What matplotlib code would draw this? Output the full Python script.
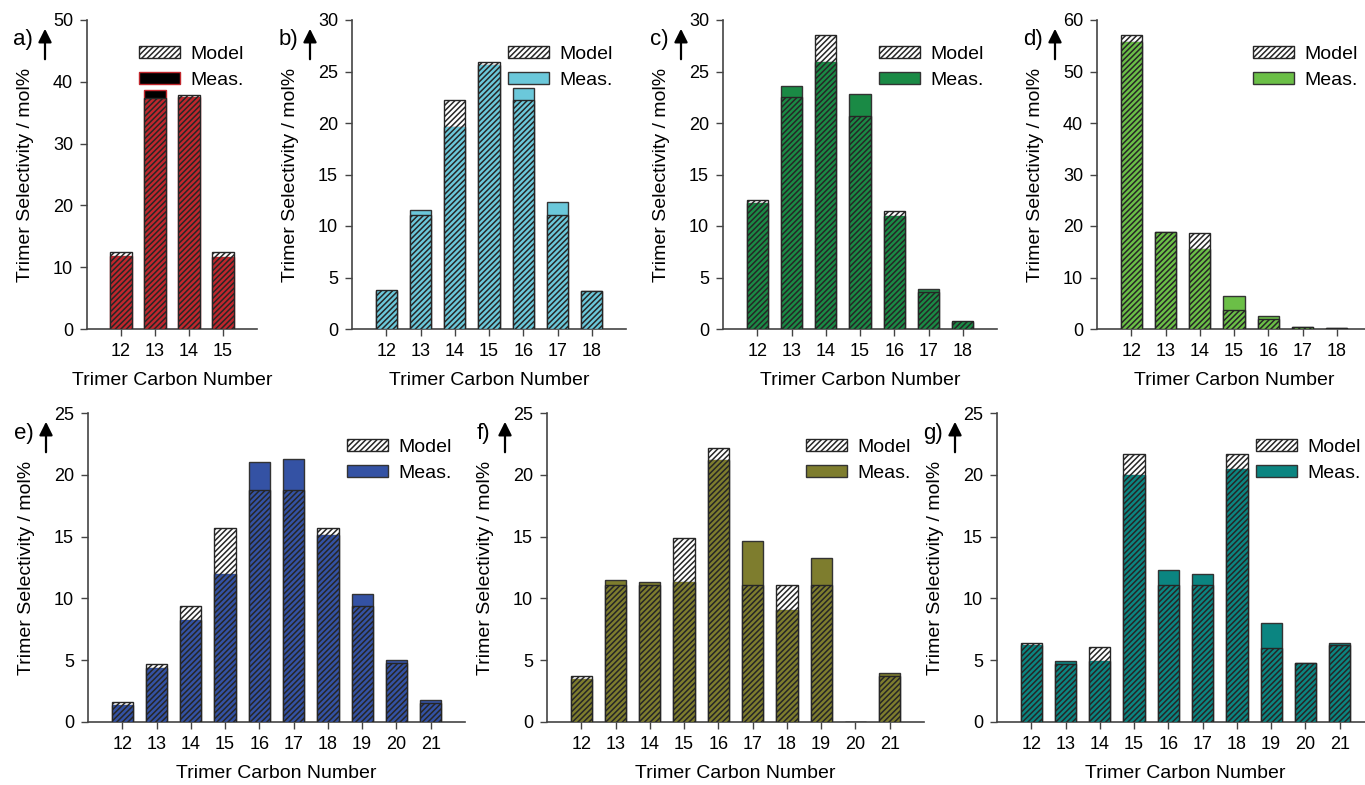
import numpy as np
import matplotlib
matplotlib.use("Agg")
import matplotlib.pyplot as plt
from matplotlib.patches import Patch

plt.rcParams['font.family'] = ['Liberation Sans', 'DejaVu Sans']
plt.rcParams['hatch.linewidth'] = 1.1

# data (mol%)
c_a = [12, 13, 14, 15]
model_a = [12.4, 37.4, 37.8, 12.4]
meas_a = [11.8, 38.6, 37.6, 11.7]

c_b = [12, 13, 14, 15, 16, 17, 18]
model_b = [3.8, 11.1, 22.2, 25.9, 22.2, 11.1, 3.7]
meas_b = [3.7, 11.6, 19.6, 25.6, 23.4, 12.3, 3.7]

c_c = [12, 13, 14, 15, 16, 17, 18]
model_c = [12.5, 22.5, 28.5, 20.7, 11.5, 3.6, 0.8]
meas_c = [12.2, 23.6, 25.9, 22.8, 11.0, 3.85, 0.7]

c_d = [12, 13, 14, 15, 16, 17, 18]
model_d = [57.1, 18.8, 18.6, 3.7, 1.9, 0.4, 0.2]
meas_d = [55.7, 18.9, 15.6, 6.5, 2.6, 0.3, 0.2]

c_e = [12, 13, 14, 15, 16, 17, 18, 19, 20, 21]
model_e = [1.62, 4.73, 9.4, 15.7, 18.8, 18.8, 15.7, 9.4, 4.8, 1.57]
meas_e = [1.35, 4.4, 8.24, 11.97, 21.0, 21.3, 15.1, 10.35, 5.05, 1.76]

c_f = [12, 13, 14, 15, 16, 17, 18, 19, 20, 21]
model_f = [3.73, 11.1, 11.1, 14.9, 22.2, 11.1, 11.1, 11.1, 0.0, 3.73]
meas_f = [3.5, 11.5, 11.35, 11.35, 21.2, 14.65, 9.05, 13.3, 0.0, 4.0]

c_g = [12, 13, 14, 15, 16, 17, 18, 19, 20, 21]
model_g = [6.4, 4.73, 6.03, 21.7, 11.1, 11.1, 21.7, 6.0, 4.8, 6.2]
meas_g = [6.2, 4.92, 4.95, 20.0, 12.3, 11.95, 20.5, 7.97, 4.8, 6.4]

panels = [
    # letter, carbons, model, meas, meas colour, overlap fill, meas edge, ymax, ystep, xmax, rect(px: left, top, width, height)
    ('a)', c_a, model_a, meas_a, '#000000', '#C0272D', '#C0272D', 50, 10, 16, (87, 20, 170, 309)),
    ('b)', c_b, model_b, meas_b, '#6BC8DA', '#6BC8DA', '#333333', 30, 5, 19, (352, 20, 274, 309)),
    ('c)', c_c, model_c, meas_c, '#1A8A45', '#1A8A45', '#333333', 30, 5, 19, (723, 20, 274, 309)),
    ('d)', c_d, model_d, meas_d, '#6BBF47', '#6BBF47', '#333333', 60, 10, 19, (1097, 20, 274, 309)),
    ('e)', c_e, model_e, meas_e, '#3452A4', '#3452A4', '#333333', 25, 5, 22, (88, 413, 377, 309)),
    ('f)', c_f, model_f, meas_f, '#7E7D2E', '#7E7D2E', '#333333', 25, 5, 22, (547, 413, 377, 309)),
    ('g)', c_g, model_g, meas_g, '#0B8581', '#0B8581', '#333333', 25, 5, 22, (997, 413, 377, 309)),
]

W, H = 1365, 785
fig = plt.figure(figsize=(W / 100, H / 100), dpi=100)

bw = 0.62
for letter, cn, mod, mea, col, fill, medge, ymax, ystep, xmax, (l, t, w, h) in panels:
    ax = fig.add_axes([l / W, 1 - (t + h) / H, w / W, h / H])
    cn = np.array(cn)
    mod = np.array(mod)
    mea = np.array(mea)
    ax.bar(cn, mea, bw, color=col, edgecolor=medge, linewidth=1, zorder=2)
    ax.bar(cn, np.minimum(mod, mea), bw, color=fill, edgecolor='none', zorder=3)
    ax.bar(cn, mod, bw, facecolor='none', edgecolor='#262626', hatch='//////',
           linewidth=1, zorder=4)

    ax.set_xlim(11, xmax)
    ax.set_ylim(0, ymax)
    ax.set_xticks(cn)
    ax.set_yticks(np.arange(0, ymax + 1, ystep))
    for s in ['top', 'right']:
        ax.spines[s].set_visible(False)
    for s in ['left', 'bottom']:
        ax.spines[s].set_color('#444444')
        ax.spines[s].set_linewidth(1.2)
    ax.tick_params(direction='out', length=5, width=1, color='#444444',
                   labelsize=13, pad=5)

    ax.set_xlabel('Trimer Carbon Number', fontsize=14, labelpad=9)
    ax.set_ylabel('Trimer Selectivity / mol%', fontsize=14)
    ax.yaxis.set_label_coords(-53 / w, 0.5)

    ax.annotate('', xy=(-42 / w, 1 - 6 / h), xytext=(-42 / w, 1 - 42 / h),
                xycoords='axes fraction',
                arrowprops=dict(arrowstyle='-|>', color='black', lw=1.6,
                                mutation_scale=20))
    ax.text(-64 / w, 1 - 20 / h, letter, transform=ax.transAxes,
            ha='center', va='center', fontsize=16)

    handles = [Patch(facecolor='white', edgecolor='#262626', hatch='//////', label='Model'),
               Patch(facecolor=col, edgecolor=medge, label='Meas.')]
    ax.legend(handles=handles, loc='upper right', bbox_to_anchor=(1.0, 0.96),
              frameon=False, fontsize=14, handlelength=2.1, handleheight=0.55,
              handletextpad=0.5, labelspacing=0.45, borderaxespad=0.3)

fig.savefig('out.png', dpi=100)
